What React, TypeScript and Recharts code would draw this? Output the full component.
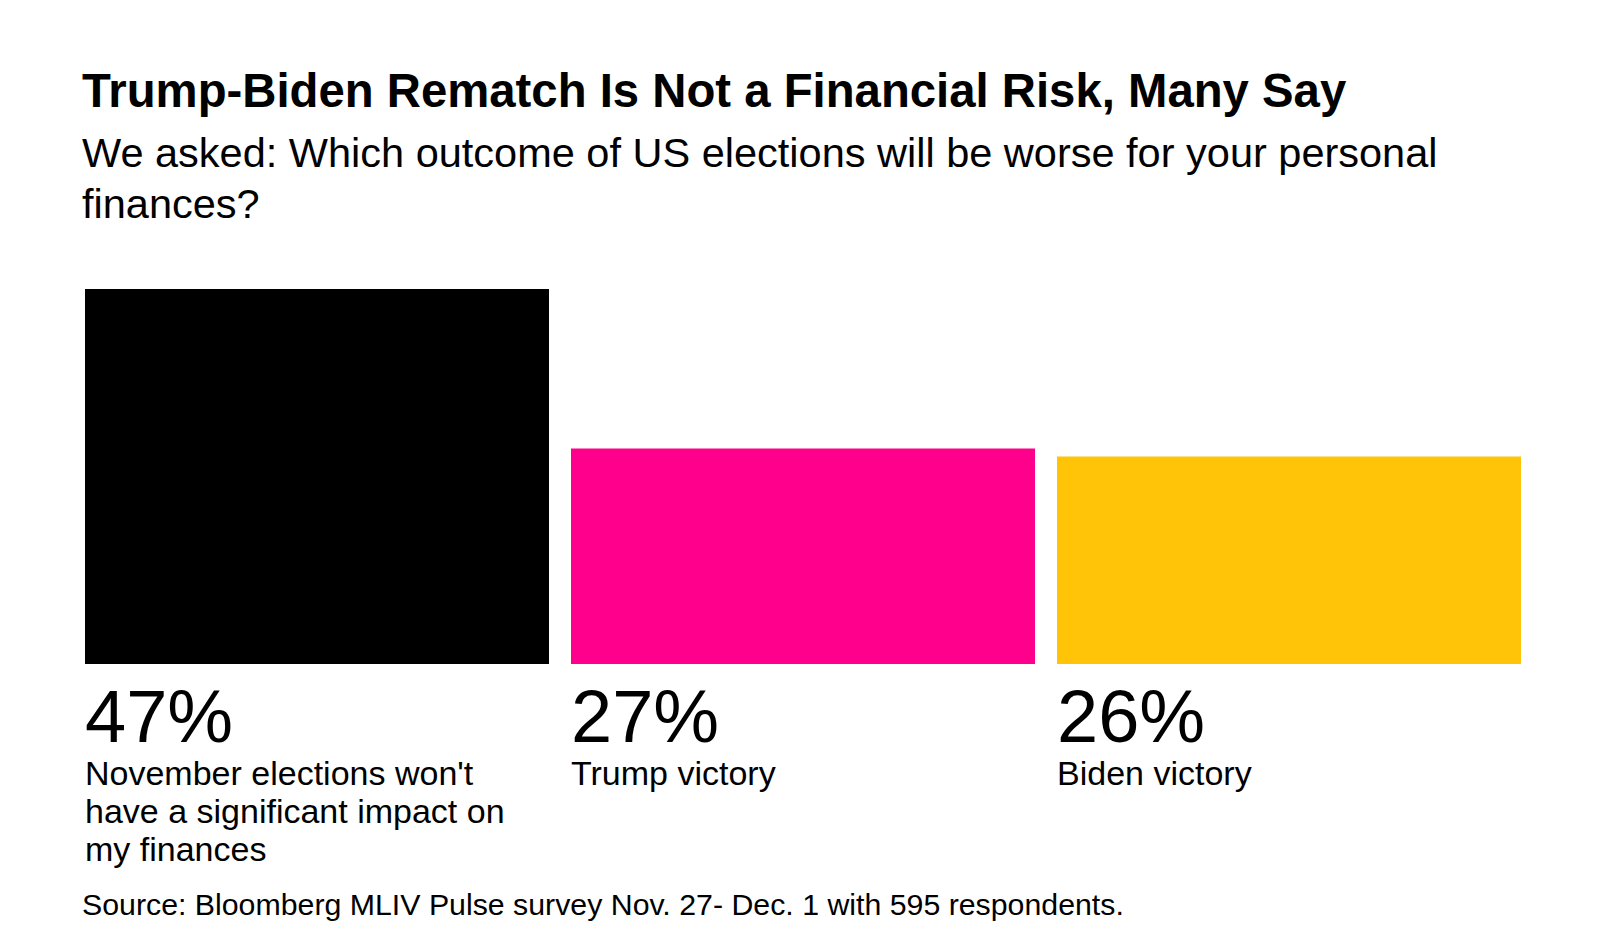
import { Bar, BarChart, Cell, LabelList, XAxis, YAxis } from 'recharts';

const categories = [
  "November elections won't have a significant impact on my finances",
  'Trump victory',
  'Biden victory',
];
const shares = [47, 27, 26];
const colors = ['#000000', '#FF008C', '#FFC408'];

const data = categories.map((name, i) => ({ name, value: shares[i], color: colors[i] }));

const FONT = '"Liberation Sans", Arial, Helvetica, sans-serif';

// greedy word wrap using canvas text metrics
const wrapText = (text: string, maxWidth: number, font: string) => {
  const ctx = document.createElement('canvas').getContext('2d');
  if (!ctx) return [text];
  ctx.font = font;
  const words = text.split(' ');
  const lines: string[] = [];
  let line = '';
  words.forEach((w) => {
    const test = line ? `${line} ${w}` : w;
    if (line && ctx.measureText(test).width > maxWidth) {
      lines.push(line);
      line = w;
    } else {
      line = test;
    }
  });
  if (line) lines.push(line);
  return lines;
};

const renderLabel = (props: any) => {
  const { x, y, height, index } = props;
  const bottom = y + height;
  const lines = wrapText(categories[index], 440, `34px ${FONT}`);
  return (
    <g>
      <text x={x} y={bottom + 78} fontSize={74} fontFamily={FONT} fill='#000'>
        {`${shares[index]}%`}
      </text>
      <text x={x} y={bottom + 121} fontSize={34} fontFamily={FONT} fill='#000'>
        {lines.map((l, i) => (
          <tspan key={i} x={x} dy={i === 0 ? 0 : 38}>
            {l}
          </tspan>
        ))}
      </text>
    </g>
  );
};

export default function App() {
  return (
    <div style={{ position: 'relative', width: 1584, height: 919, background: '#fff' }}>
      <svg
        width={1584}
        height={919}
        style={{ position: 'absolute', left: 0, top: 0, pointerEvents: 'none' }}
      >
        <text x={74} y={99} fontSize={47.3} fontWeight='bold' fontFamily={FONT} fill='#000'>
          Trump-Biden Rematch Is Not a Financial Risk, Many Say
        </text>
        <text x={74} y={159} fontSize={41.5} fontFamily={FONT} fill='#000'>
          We asked: Which outcome of US elections will be worse for your personal
        </text>
        <text x={74} y={210} fontSize={41.5} fontFamily={FONT} fill='#000'>
          finances?
        </text>
        <text x={74} y={907} fontSize={30.3} fontFamily={FONT} fill='#000'>
          Source: Bloomberg MLIV Pulse survey Nov. 27- Dec. 1 with 595 respondents.
        </text>
      </svg>
      <BarChart
        width={1584}
        height={919}
        data={data}
        margin={{ top: 257, right: 60, bottom: 263, left: 66 }}
        barCategoryGap={11}
      >
        <XAxis dataKey='name' hide />
        <YAxis domain={[0, 50]} hide />
        <Bar dataKey='value' isAnimationActive={false}>
          {data.map((entry, index) => (
            <Cell key={`cell-${index}`} fill={entry.color} />
          ))}
          <LabelList dataKey='value' content={renderLabel} />
        </Bar>
      </BarChart>
    </div>
  );
}
